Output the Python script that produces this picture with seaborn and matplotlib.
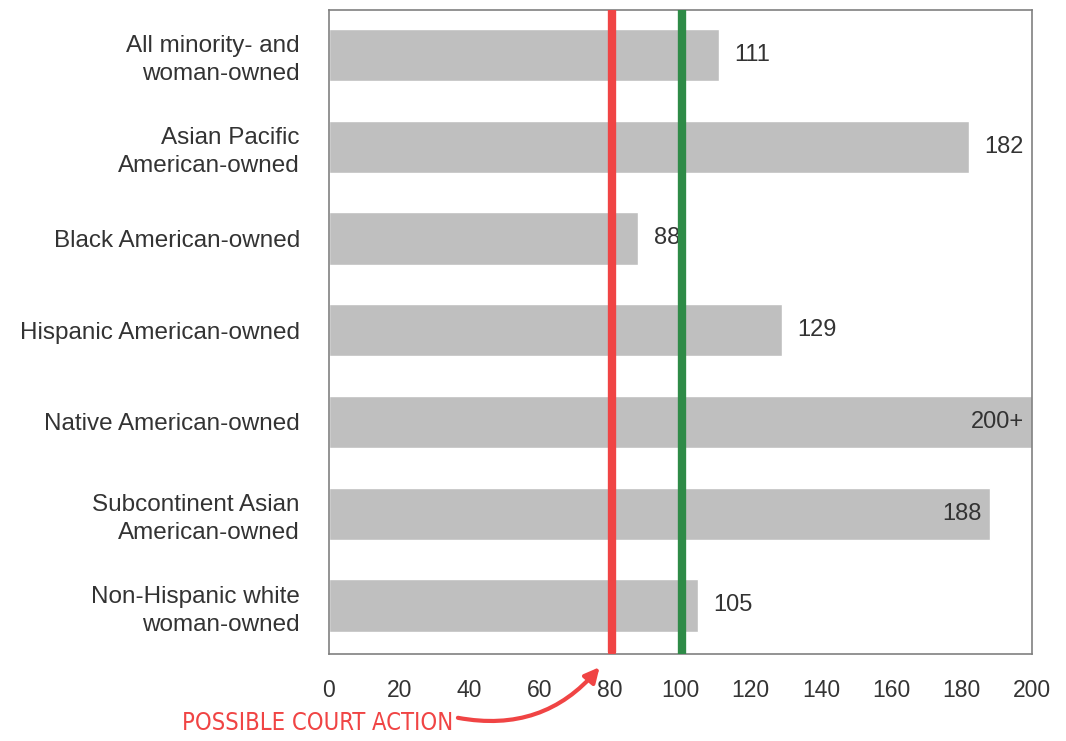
import matplotlib
matplotlib.use('Agg')
import matplotlib.pyplot as plt
import seaborn as sns
import pandas as pd

groups = ['All minority- and\nwoman-owned',
          'Asian Pacific\nAmerican-owned',
          'Black American-owned',
          'Hispanic American-owned',
          'Native American-owned',
          'Subcontinent Asian\nAmerican-owned',
          'Non-Hispanic white\nwoman-owned']
ratios = [111, 182, 88, 129, 200, 188, 105]
ratio_labels = ['111', '182', '88', '129', '200+', '188', '105']
inside = [False, False, False, False, True, True, False]
xticks = [0, 20, 40, 60, 80, 100, 120, 140, 160, 180, 200]
court_line = 80
parity_line = 100

df = pd.DataFrame({'group': groups, 'ratio': ratios})

sns.set_style('white')
plt.rcParams['font.family'] = ['Liberation Sans', 'DejaVu Sans']

fig = plt.figure(figsize=(10.66, 7.41), dpi=100)
ax = fig.add_axes([0.3086, 0.1174, 0.6594, 0.8691])

sns.barplot(data=df, y='group', x='ratio', orient='h', color='#bfbfbf',
            saturation=1, width=0.57, ax=ax)

txt = '#333333'
for i, (v, lab, ins) in enumerate(zip(ratios, ratio_labels, inside)):
    if ins:
        ax.annotate(lab, (v, i), xytext=(-6, 0), textcoords='offset points',
                    ha='right', va='center', fontsize=17, color=txt)
    else:
        ax.annotate(lab, (v, i), xytext=(11, 0), textcoords='offset points',
                    ha='left', va='center', fontsize=17, color=txt)

ax.axvline(court_line + 0.6, ymin=0.003, ymax=1.0, color='#f04444', lw=6,
           solid_capstyle='round', zorder=5)
ax.axvline(parity_line + 0.4, ymin=0.0, ymax=1.0, color='#2e8b47', lw=6,
           solid_capstyle='round', zorder=5)

ax.set_xlim(0, 200)
ax.set_ylim(6.53, -0.49)
ax.set_xticks(xticks)
ax.set_xlabel('')
ax.set_ylabel('')
ax.tick_params(axis='x', direction='out', length=6, width=1, color='#808080',
               labelsize=16.5, labelcolor=txt, pad=12)
ax.tick_params(axis='y', length=0, labelsize=17.5, labelcolor=txt, pad=21)
for lbl in ax.get_yticklabels():
    lbl.set_multialignment('right')
    lbl.set_linespacing(1.35)
for s in ax.spines.values():
    s.set_color('#808080')
    s.set_linewidth(1.2)

fig.text(0.171, 0.008, 'POSSIBLE COURT ACTION', color='#f04444', fontsize=17,
         family=['DejaVu Sans'], stretch='condensed', ha='left', va='bottom')
ax.annotate('', xy=(77.5, 6.53 + 0.12), xycoords='data',
            xytext=(0.427, 0.032), textcoords='figure fraction',
            arrowprops=dict(arrowstyle='-|>', color='#f04444', lw=3,
                            connectionstyle='arc3,rad=0.3', mutation_scale=22),
            annotation_clip=False)

fig.savefig('out.png', dpi=100)
